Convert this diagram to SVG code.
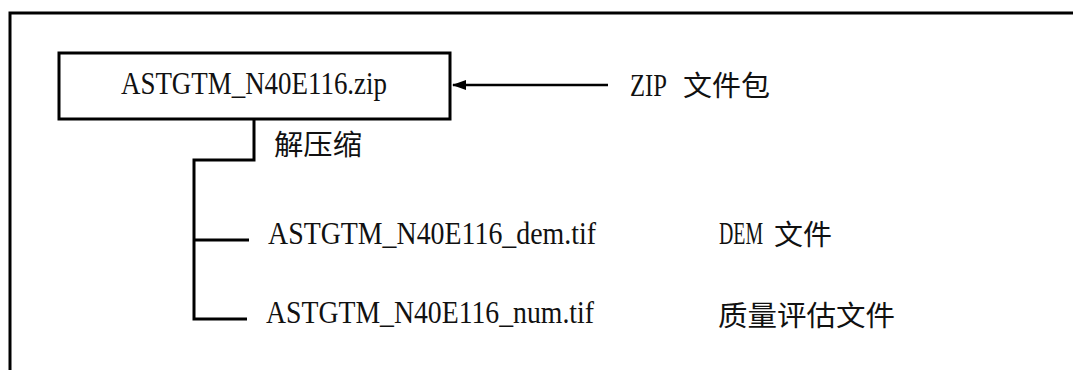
<svg xmlns="http://www.w3.org/2000/svg" width="1073" height="370" viewBox="0 0 1073 370">
  <style>
    .ln { fill: none; stroke: #000; stroke-width: 3; }
    .latin { font-family: "Liberation Serif", serif; font-size: 32px; fill: #111; }
    .cjk { font-family: "Noto Sans CJK SC", sans-serif; font-size: 28px; fill: #111; }
  </style>
  <defs>
    <marker id="arrowhead" markerWidth="14" markerHeight="10" refX="13" refY="5" orient="auto" markerUnits="userSpaceOnUse">
      <path d="M0,0 L14,5 L0,10 Z" fill="#000"/>
    </marker>
  </defs>

  <!-- outer frame (top and left edges) -->
  <path class="ln" d="M10,370 V13 H1073"/>

  <g id="connectors">
    <path class="ln" d="M254,120 V160 H194 V319 H247"/>
    <path class="ln" d="M194,240 H249"/>
    <line x1="608" y1="85" x2="453" y2="85" stroke="#000" stroke-width="2.5" marker-end="url(#arrowhead)"/>
  </g>

  <g id="zip-package">
    <rect class="ln" x="59" y="53" width="391" height="66" stroke-width="3.5"/>
    <text class="latin" x="121" y="93.5" textLength="266" lengthAdjust="spacingAndGlyphs">ASTGTM_N40E116.zip</text>
  </g>

  <g id="zip-label">
    <text class="latin" y="96"><tspan x="630" textLength="37" lengthAdjust="spacingAndGlyphs">ZIP</tspan><tspan class="cjk" x="683" textLength="87" lengthAdjust="spacingAndGlyphs">文件包</tspan></text>
  </g>

  <g id="unzip-label">
    <text class="cjk" x="274" y="155" font-size="29" textLength="88" lengthAdjust="spacingAndGlyphs">解压缩</text>
  </g>

  <g id="dem-file">
    <text class="latin" x="268" y="244" textLength="328" lengthAdjust="spacingAndGlyphs">ASTGTM_N40E116_dem.tif</text>
  </g>

  <g id="num-file">
    <text class="latin" x="266" y="323" textLength="328" lengthAdjust="spacingAndGlyphs">ASTGTM_N40E116_num.tif</text>
  </g>

  <g id="dem-label">
    <text class="latin" transform="translate(719,244) scale(0.62,1)">DEM</text>
    <text class="cjk" x="774" y="245" textLength="58" lengthAdjust="spacingAndGlyphs">文件</text>
  </g>

  <g id="num-label">
    <text class="cjk" x="718" y="326" font-size="29" textLength="177" lengthAdjust="spacingAndGlyphs">质量评估文件</text>
  </g>
</svg>
